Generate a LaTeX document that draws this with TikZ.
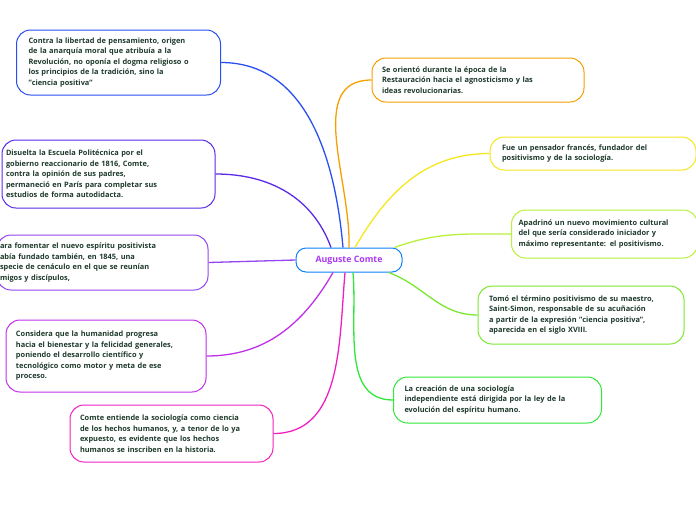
\documentclass[tikz,border=0pt]{standalone}
\usepackage{fontspec}
\setmainfont{Open Sans}
\begin{document}
\begin{tikzpicture}[x=1pt,y=-1pt,
 box/.style={draw=#1,line width=1pt,rounded corners=14pt,fill=white,inner xsep=12pt,inner ysep=5pt,align=left,font=\fontsize{7.4}{10.5}\selectfont\bfseries,text=txt},
 conn/.style={line width=1.3pt,draw=#1}]
\definecolor{txt}{HTML}{1E3A2C}
\definecolor{cblue}{HTML}{2A4FF0}\definecolor{cind}{HTML}{5A2AE8}\definecolor{cvio}{HTML}{9446F0}
\definecolor{cpur}{HTML}{C030E8}\definecolor{cmag}{HTML}{F020C0}
\definecolor{corg}{HTML}{F5A000}\definecolor{cyel}{HTML}{F5E61E}\definecolor{cyg}{HTML}{B8F03A}
\definecolor{cgr1}{HTML}{7AE830}\definecolor{cgr2}{HTML}{30E838}
\useasboundingbox (0,0) rectangle (696,520);
\node[draw=cblue!40!cyan!70!blue,line width=1pt,rounded corners=10pt,minimum width=106pt,minimum height=24pt,text=cvio!80!magenta,font=\fontsize{8.8}{10}\selectfont\bfseries] (c) at (349,260) {Auguste Comte};
% left
\node[box=cblue,text width=180pt,minimum height=65pt] (b1) at (118.5,62.5) {Contra la libertad de pensamiento, origen\\ de la anarquía moral que atribuía a la\\ Revolución, no oponía el dogma religioso o\\ los principios de la tradición, sino la\\ "ciencia positiva"};
\node[box=cind,text width=205pt,minimum height=68pt,inner xsep=4pt] (b2) at (108.5,174) {Disuelta la Escuela Politécnica por el\\ gobierno reaccionario de 1816, Comte,\\ contra la opinión de sus padres,\\ permaneció en París para completar sus\\ estudios de forma autodidacta.};
\node[box=cvio,text width=205pt,minimum height=55pt,inner xsep=3pt] (b3) at (102.5,262.5) {ara fomentar el nuevo espíritu positivista\\ abía fundado también, en 1845, una\\ specie de cenáculo en el que se reunían\\ migos y discípulos,};
\node[box=cpur,text width=180pt,minimum height=72pt,inner xsep=10pt] (b4) at (106,356) {Considera que la humanidad progresa\\ hacia el bienestar y la felicidad generales,\\ poniendo el desarrollo científico y\\ tecnológico como motor y meta de ese\\ proceso.};
\node[box=cmag,text width=183pt,minimum height=57pt,inner xsep=10pt] (b5) at (171.5,433.5) {Comte entiende la sociología como ciencia\\ de los hechos humanos, y, a tenor de lo ya\\ expuesto, es evidente que los hechos\\ humanos se inscriben en la historia.};
% right
\node[box=corg,text width=192pt,minimum height=44pt,inner xsep=10pt] (r1) at (478,80) {Se orientó durante la época de la\\ Restauración hacia el agnosticismo y las\\ ideas revolucionarias.};
\node[box=cyel,text width=182pt,minimum height=33pt] (r2) at (593,153.5) {Fue un pensador francés, fundador del\\ positivismo y de la sociología.};
\node[box=cyg,text width=172pt,minimum height=48pt,inner xsep=7pt] (r3) at (604.5,234) {Apadrinó un nuevo movimiento cultural\\ del que sería considerado iniciador y\\ máximo representante: el positivismo.};
\node[box=cgr1,text width=184pt,minimum height=58pt,inner xsep=11pt] (r4) at (581,315) {Tomó el término positivismo de su maestro,\\ Saint-Simon, responsable de su acuñación\\ a partir de la expresión "ciencia positiva",\\ aparecida en el siglo XVIII.};
\node[box=cgr2,text width=186pt,minimum height=46pt,inner xsep=11pt] (r5) at (497.5,400) {La creación de una sociología\\ independiente está dirigida por la ley de la\\ evolución del espíritu humano.};
\draw[conn=cblue] (c.north)++(-6,0) to[out=95,in=0] (b1.east);
\draw[conn=cind] (c.north)++(-18,0) to[out=110,in=0] (b2.east);
\draw[conn=cvio] (c.west) -- (b3.east);
\draw[conn=cpur] (c.south)++(-16,0) to[out=-120,in=0] (b4.east);
\draw[conn=cmag] (c.south)++(-4,0) to[out=-95,in=0] (b5.east);
\draw[conn=corg] (c.north) to[out=88,in=180] (r1.west);
\draw[conn=cyel] (c.north)++(6,0) to[out=60,in=180] (r2.west);
\draw[conn=cyg] (c.north east)++(-8,0) to[out=20,in=180] (r3.west);
\draw[conn=cgr1] (c.south east)++(-14,0) to[out=-20,in=180] (r4.west);
\draw[conn=cgr2] (c.south)++(4,0) to[out=-85,in=180] (r5.west);
\end{tikzpicture}
\end{document}
